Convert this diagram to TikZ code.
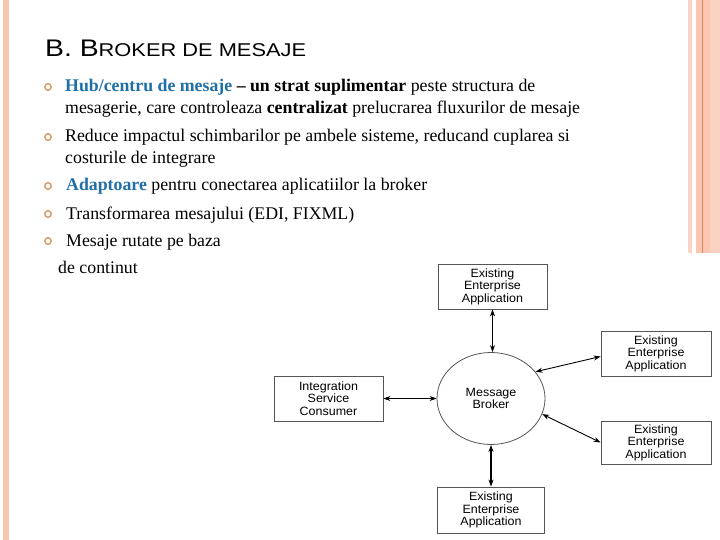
\documentclass[tikz,border=0pt]{standalone}
\usepackage{fontspec}
\setmainfont{Liberation Serif}
\newfontfamily\sansf[FakeStretch=1.04]{Liberation Sans}
\newfontfamily\titlef[FakeStretch=1.18]{Liberation Sans}
\usetikzlibrary{shapes.geometric,arrows.meta}
\definecolor{barpink}{HTML}{F7C6B0}
\definecolor{barlight}{HTML}{FAD5C5}
\definecolor{barmid}{HTML}{FCC6B2}
\definecolor{barline}{HTML}{D98B5F}
\definecolor{hubblue}{HTML}{1F6FA8}
\definecolor{bulletc}{HTML}{D9A070}
\definecolor{boxgray}{HTML}{555555}
\tikzset{
  body/.style={anchor=base west, inner sep=0pt, font=\fontsize{17.8}{20}\selectfont},
  bul/.style={circle, draw=bulletc, line width=1.6pt, minimum size=6.5pt, inner sep=0pt},
  appbox/.style={draw=boxgray, line width=0.8pt, rectangle, inner sep=0pt, align=center,
    font=\sansf\fontsize{12}{12.6}\selectfont},
  brokerell/.style={draw=boxgray, line width=0.8pt, ellipse, inner sep=0pt, align=center,
    minimum width=108pt, minimum height=92pt, font=\sansf\fontsize{12}{12.6}\selectfont},
  link/.style={{Stealth[length=7pt,width=5pt]}-{Stealth[length=7pt,width=5pt]}, line width=0.9pt, black}
}
\begin{document}
\begin{tikzpicture}[x=1pt,y=-1pt]
\useasboundingbox (0,0) rectangle (720,540);
% decorative bars
\fill[barpink] (3,0) rectangle (9,540);
\fill[barlight] (688,0) rectangle (692,253);
\fill[barmid] (696,0) rectangle (710,253);
\fill[barlight!80!barmid] (710,0) rectangle (720,253);
\fill[barline] (702,0) rectangle (703.2,253);
% title
\node[anchor=base west, inner sep=0pt] (title) at (45,57)
  {\titlef\fontsize{24}{28}\selectfont B. B\fontsize{18.5}{22}\selectfont ROKER DE MESAJE};
% bullets
\node[bul] (b1) at (48,87) {};
\node[bul] (b2) at (48,137) {};
\node[bul] (b3) at (48,186) {};
\node[bul] (b4) at (48,214) {};
\node[bul] (b5) at (48,241) {};
\node[body] (l1) at (65,92) {\textcolor{hubblue}{\textbf{Hub/centru de mesaje}} \textbf{– un strat suplimentar} peste structura de};
\node[body] (l2) at (65,114) {mesagerie, care controleaza \textbf{centralizat} prelucrarea fluxurilor de mesaje};
\node[body] (l3) at (65,142) {Reduce impactul schimbarilor pe ambele sisteme, reducand cuplarea si};
\node[body] (l4) at (65,164) {costurile de integrare};
\node[body] (l5) at (66,191) {\textcolor{hubblue}{\textbf{Adaptoare}} pentru conectarea aplicatiilor la broker};
\node[body] (l6) at (66,219) {Transformarea mesajului (EDI, FIXML)};
\node[body] (l7) at (66,246) {Mesaje rutate pe baza};
\node[body] (l8) at (58,273) {de continut};
% diagram
\node[brokerell] (broker) at (491,398.5) {Message\\Broker};
\node[appbox, minimum width=109pt, minimum height=45pt] (top) at (492.5,286.5) {Existing\\Enterprise\\Application};
\node[appbox, minimum width=110pt, minimum height=45pt] (ru) at (656,353.5) {Existing\\Enterprise\\Application};
\node[appbox, minimum width=110pt, minimum height=43pt] (rl) at (656,442.5) {Existing\\Enterprise\\Application};
\node[appbox, minimum width=109pt, minimum height=45pt] (left) at (328.5,398.5) {Integration\\Service\\Consumer};
\node[appbox, minimum width=107pt, minimum height=46pt] (bottom) at (491,510) {Existing\\Enterprise\\Application};
\draw[link, line width=1.3pt] (top.south) -- (top.south |- broker.north);
\draw[link, line width=1.8pt] (broker.south) -- (bottom.north);
\draw[link] (left.east) -- (broker.west);
\draw[link] (broker.31) -- ([yshift=-3pt]ru.west);
\draw[link] (broker.-17) -- (rl.west);
\end{tikzpicture}
\end{document}
